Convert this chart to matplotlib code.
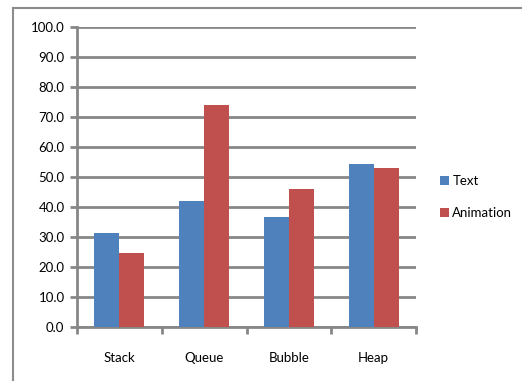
import matplotlib
matplotlib.use("Agg")
import matplotlib.pyplot as plt
from matplotlib.lines import Line2D
import numpy as np

categories = ["Stack", "Queue", "Bubble", "Heap"]
text_vals = [31.2, 42.0, 36.6, 54.3]
anim_vals = [24.6, 74.0, 46.0, 53.0]
series_names = ["Text", "Animation"]
yticks = [0, 10, 20, 30, 40, 50, 60, 70, 80, 90, 100]

plt.rcParams['font.family'] = ['Lato', 'DejaVu Sans']

fig = plt.figure(figsize=(5.22, 3.81), dpi=100)
ax = fig.add_axes([77/522, 1-327/381, (416-77)/522, 300/381])

grid_c = "#878787"
x = np.arange(len(categories))
w = 0.295
ax.bar(x - w/2, text_vals, width=w, color="#4F81BD", label=series_names[0], zorder=3)
ax.bar(x + w/2, anim_vals, width=w, color="#C0504D", label=series_names[1], zorder=3)

ax.set_xlim(-0.5, len(categories) - 0.5)
ax.set_ylim(0, 100)
ax.set_yticks(yticks)
ax.set_yticklabels([f"{v:.1f}" for v in yticks], fontsize=9.5)
ax.yaxis.grid(True, color=grid_c, linewidth=2, zorder=0)
ax.set_axisbelow(True)

ax.set_xticks(np.arange(len(categories) + 1) - 0.5)
ax.set_xticklabels([])
ax.set_xticks(x, minor=True)
ax.set_xticklabels(categories, minor=True, fontsize=9.5)
ax.tick_params(axis='x', which='minor', length=0, pad=18)
ax.tick_params(axis='x', which='major', length=5, width=2, color=grid_c)
ax.tick_params(axis='y', length=5, width=2, color=grid_c, pad=4)

for s in ["top", "right"]:
    ax.spines[s].set_visible(False)
for s in ["left", "bottom"]:
    ax.spines[s].set_color(grid_c)
    ax.spines[s].set_linewidth(2)

fig.legend(loc="upper left", bbox_to_anchor=(428/522, 1-163/381), frameon=False,
           fontsize=9.5, handlelength=0.7, handleheight=0.7, handletextpad=0.25,
           labelspacing=1.55)

# outer chart frame
fig.add_artist(Line2D([13/522, 13/522], [0, 1-8/381], color="#8c8c8c", lw=1.5,
                      transform=fig.transFigure))
fig.add_artist(Line2D([13/522, 1], [1-8/381, 1-8/381], color="#8c8c8c", lw=1.5,
                      transform=fig.transFigure))

fig.savefig("out.png", dpi=100)
